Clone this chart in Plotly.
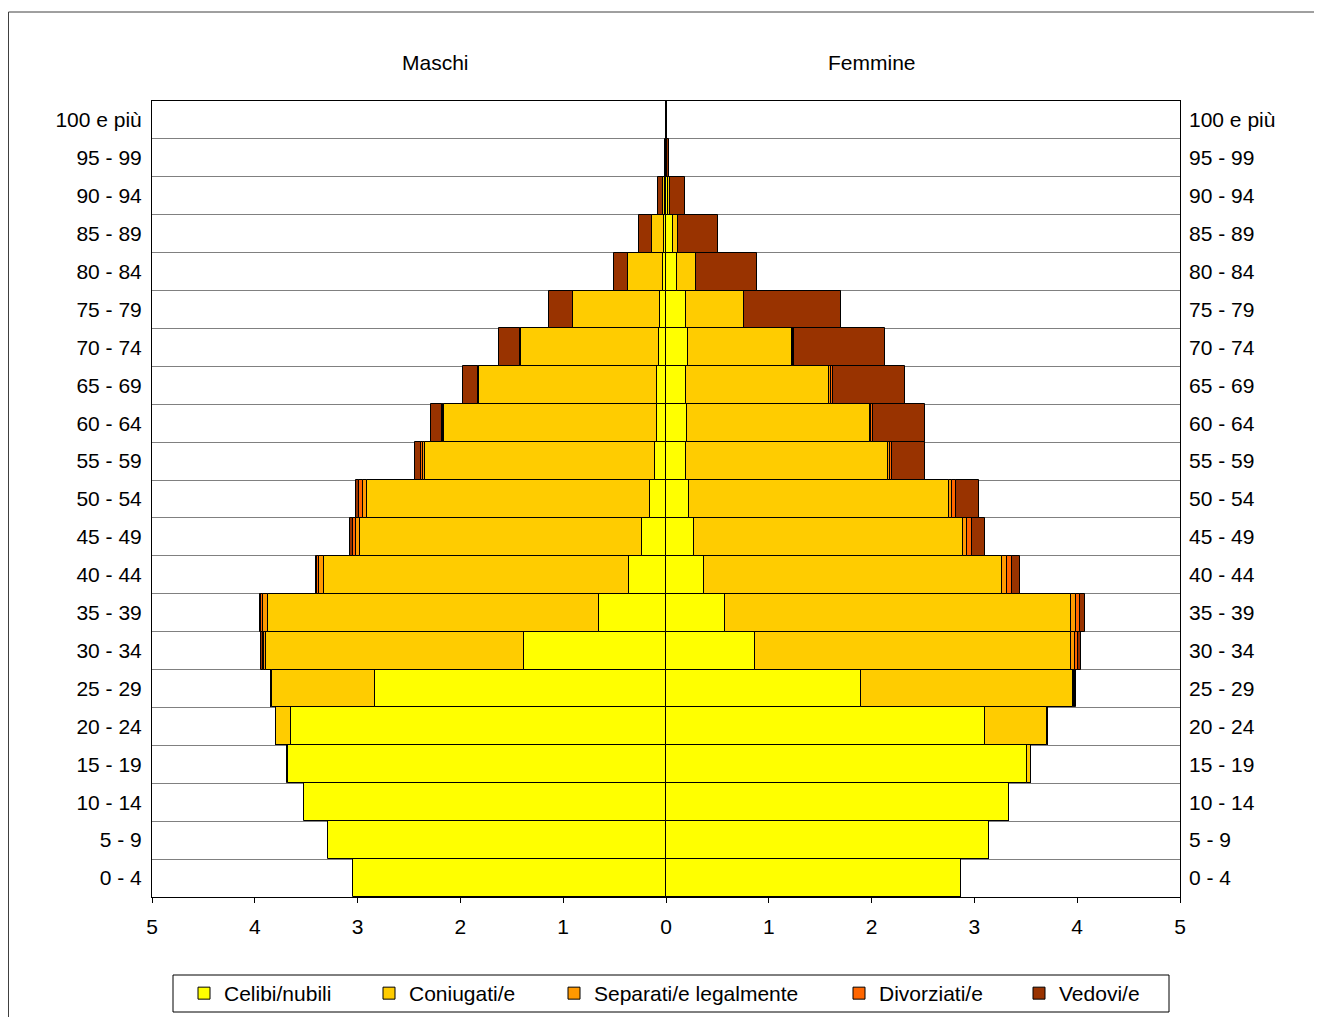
import plotly.graph_objects as go

# the page draws the figure 8px in from the window's top-left corner
OFF = 8
W, H = 1322 - OFF, 1017 - OFF

age_groups = ["0 - 4", "5 - 9", "10 - 14", "15 - 19", "20 - 24", "25 - 29", "30 - 34",
              "35 - 39", "40 - 44", "45 - 49", "50 - 54", "55 - 59", "60 - 64", "65 - 69",
              "70 - 74", "75 - 79", "80 - 84", "85 - 89", "90 - 94", "95 - 99", "100 e più"]

# Maschi (percentuali)
m_celibi     = [3.04, 3.29, 3.52, 3.68, 3.65, 2.83, 1.38, 0.65, 0.36, 0.23, 0.16, 0.11, 0.09, 0.085, 0.07, 0.055, 0.025, 0.015, 0.005, 0.001, 0.0]
m_coniugati  = [0.0, 0.0, 0.0, 0.01, 0.14, 1.00, 2.51, 3.225, 2.97, 2.75, 2.75, 2.235, 2.065, 1.73, 1.34, 0.85, 0.34, 0.125, 0.025, 0.003, 0.0]
m_separati   = [0.0, 0.0, 0.0, 0.0, 0.002, 0.008, 0.025, 0.045, 0.045, 0.035, 0.04, 0.02, 0.01, 0.007, 0.004, 0.002, 0.001, 0.0, 0.0, 0.0, 0.0]
m_divorziati = [0.0, 0.0, 0.0, 0.0, 0.001, 0.004, 0.01, 0.02, 0.02, 0.025, 0.035, 0.015, 0.01, 0.007, 0.003, 0.002, 0.001, 0.0, 0.0, 0.0, 0.0]
m_vedovi     = [0.0, 0.0, 0.0, 0.0, 0.001, 0.005, 0.015, 0.01, 0.01, 0.03, 0.03, 0.065, 0.11, 0.15, 0.21, 0.23, 0.14, 0.124, 0.05, 0.01, 0.001]

# Femmine (percentuali)
f_nubili     = [2.87, 3.14, 3.34, 3.51, 3.10, 1.895, 0.87, 0.57, 0.37, 0.27, 0.22, 0.19, 0.20, 0.19, 0.21, 0.19, 0.105, 0.065, 0.015, 0.003, 0.0]
f_coniugate  = [0.0, 0.0, 0.0, 0.04, 0.61, 2.06, 3.07, 3.365, 2.90, 2.62, 2.53, 1.965, 1.78, 1.40, 1.02, 0.565, 0.185, 0.055, 0.025, 0.003, 0.0]
f_separate   = [0.0, 0.0, 0.0, 0.0, 0.003, 0.015, 0.04, 0.055, 0.05, 0.04, 0.03, 0.02, 0.015, 0.015, 0.008, 0.004, 0.002, 0.0, 0.0, 0.0, 0.0]
f_divorziate = [0.0, 0.0, 0.0, 0.0, 0.002, 0.01, 0.03, 0.04, 0.05, 0.05, 0.04, 0.025, 0.015, 0.015, 0.007, 0.003, 0.001, 0.0, 0.0, 0.0, 0.0]
f_vedove     = [0.0, 0.0, 0.0, 0.0, 0.005, 0.01, 0.03, 0.05, 0.07, 0.125, 0.22, 0.32, 0.51, 0.70, 0.885, 0.94, 0.59, 0.39, 0.146, 0.027, 0.003]

status_names = ["Celibi/nubili", "Coniugati/e", "Separati/e legalmente", "Divorziati/e", "Vedovi/e"]
status_colors = ["#FFFF00", "#FFCC00", "#FF9900", "#FF6600", "#993300"]

x_ticks = [-5, -4, -3, -2, -1, 0, 1, 2, 3, 4, 5]
x_ticktext = ["5", "4", "3", "2", "1", "0", "1", "2", "3", "4", "5"]

male_series = [m_celibi, m_coniugati, m_separati, m_divorziati, m_vedovi]
female_series = [f_nubili, f_coniugate, f_separate, f_divorziate, f_vedove]

FONT = "Liberation Sans, Arial, sans-serif"
FS = 21


def px(xw):
    """window x pixel -> paper fraction"""
    return (xw - OFF) / W


def py(yw):
    """window y pixel -> paper fraction"""
    return 1 - (yw - OFF) / H


legend_ids = ["legend", "legend2", "legend3", "legend4", "legend5"]
legend_text_px = [224, 409, 594, 879, 1059]

fig = go.Figure()
for i, name in enumerate(status_names):
    fig.add_trace(go.Bar(
        y=age_groups, x=[-v for v in male_series[i]], orientation="h",
        name=name, marker=dict(color=status_colors[i], line=dict(color="black", width=1)),
        showlegend=False, legendgroup=name, legend=legend_ids[i],
        customdata=male_series[i], hovertemplate="Maschi %{y}: %{customdata}<extra>" + name + "</extra>",
    ))
    fig.add_trace(go.Bar(
        y=age_groups, x=female_series[i], orientation="h",
        name=name, marker=dict(color=status_colors[i], line=dict(color="black", width=1)),
        showlegend=True, legendgroup=name, legend=legend_ids[i],
        hovertemplate="Femmine %{y}: %{x}<extra>" + name + "</extra>",
    ))

# invisible helper trace so the right-hand category axis is drawn
fig.add_trace(go.Scatter(
    y=age_groups, x=[0] * len(age_groups), yaxis="y2", mode="markers",
    marker=dict(opacity=0), showlegend=False, hoverinfo="skip",
))

yax_common = dict(
    type="category", categoryorder="array", categoryarray=age_groups,
    range=[-0.5, len(age_groups) - 0.5], domain=[py(897), py(101)],
    tickson="boundaries", ticks="",
    tickfont=dict(family=FONT, size=FS, color="black"),
    fixedrange=True, automargin=False,
)

layout = dict(
    width=W, height=H,
    margin=dict(l=0, r=0, t=0, b=0),
    paper_bgcolor="white", plot_bgcolor="white",
    barmode="relative", bargap=0,
    font=dict(family=FONT, size=FS, color="black"),
    xaxis=dict(
        domain=[px(152), px(1180)], range=[-5, 5], tickvals=x_ticks, ticktext=x_ticktext,
        ticks="outside", ticklen=5, tickcolor="black", tickwidth=1,
        showline=True, linecolor="black", linewidth=1, mirror=True,
        showgrid=False, zeroline=True, zerolinecolor="black", zerolinewidth=2,
        tickfont=dict(family=FONT, size=FS, color="black"), ticklabelstandoff=6,
        automargin=False, fixedrange=True,
    ),
    yaxis=dict(
        **yax_common, side="left", ticklabelstandoff=5,
        showgrid=True, gridcolor="#808080", gridwidth=1,
        showline=True, linecolor="black", linewidth=1, mirror=True,
    ),
    yaxis2=dict(
        **yax_common, side="right", overlaying="y", anchor="x", ticklabelstandoff=8,
        showgrid=False, showline=False,
    ),
    annotations=[
        dict(text="Maschi", x=px(435), y=py(62), xref="paper", yref="paper",
             showarrow=False, xanchor="center", yanchor="middle",
             font=dict(family=FONT, size=FS, color="black")),
        dict(text="Femmine", x=px(872), y=py(62), xref="paper", yref="paper",
             showarrow=False, xanchor="center", yanchor="middle",
             font=dict(family=FONT, size=FS, color="black")),
    ],
    shapes=[
        dict(type="rect", xref="paper", yref="paper", x0=px(8.5), x1=px(1320.5),
             y0=-0.02, y1=py(12), line=dict(color="#404040", width=1),
             fillcolor="rgba(0,0,0,0)", layer="above"),
        dict(type="rect", xref="paper", yref="paper", x0=px(173), x1=px(1169),
             y0=py(1012), y1=py(975), line=dict(color="black", width=1),
             fillcolor="rgba(0,0,0,0)"),
    ],
    hovermode="closest",
)

for lid, tx in zip(legend_ids, legend_text_px):
    layout[lid] = dict(
        x=px(tx - 40), xanchor="left", y=py(993.5), yanchor="middle",
        orientation="h", bgcolor="rgba(0,0,0,0)", borderwidth=0,
        font=dict(family=FONT, size=FS, color="black"),
    )

fig.update_layout(**layout)
fig.write_html("out.html")
